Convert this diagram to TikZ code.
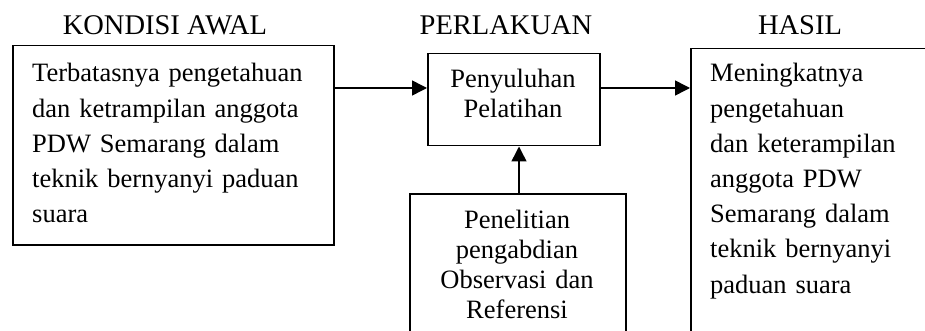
\documentclass[tikz,border=0pt]{standalone}
\usepackage{fontspec}
\setmainfont{Liberation Serif}
\usetikzlibrary{arrows.meta}
\begin{document}
\begin{tikzpicture}[x=1pt,y=-1pt,
  box/.style={draw,line width=1.5pt,rectangle,inner sep=0pt,anchor=north west},
  title/.style={anchor=base,inner sep=0pt,font=\fontsize{28.5}{34}\selectfont},
  body/.style={anchor=base west,inner sep=0pt,align=left},
  arr/.style={line width=1.5pt,-{Triangle[length=15pt,width=15pt]}}]
\useasboundingbox (0,0) rectangle (925,331);
\clip (0,0) rectangle (925,331);
% boxes
\node[box,minimum width=321pt,minimum height=199pt] (left) at (12,45) {};
\node[box,minimum width=172pt,minimum height=92pt] (mid) at (427,53) {};
\node[box,minimum width=216pt,minimum height=160pt] (bottom) at (409,193) {};
\node[box,minimum width=260pt,minimum height=300pt] (right) at (690,48) {};
% titles
\node[title] (t1) at (165,35) {KONDISI AWAL};
\node[title] (t2) at (506,35) {PERLAKUAN};
\node[title] (t3) at (800,35) {HASIL};
% texts
\node[body,text width=300pt,font=\fontsize{26.5}{35.2}\selectfont] (lt) at (32,82)
  {Terbatasnya pengetahuan\\dan ketrampilan anggota\\PDW Semarang dalam\\teknik bernyanyi paduan\\suara};
\node[body,text width=172pt,align=center,anchor=base,font=\fontsize{26.5}{30}\selectfont] (mt) at (513,88)
  {Penyuluhan\\Pelatihan};
\node[body,text width=216pt,align=center,anchor=base,font=\fontsize{26.5}{30}\selectfont] (bt) at (517,228)
  {Penelitian\\pengabdian\\Observasi dan\\Referensi};
\node[body,text width=220pt,font=\fontsize{26.5}{35.2}\selectfont] (rt) at (710,82)
  {Meningkatnya\\pengetahuan\\dan keterampilan\\anggota PDW\\Semarang dalam\\teknik bernyanyi\\paduan suara};
% connectors
\coordinate (a1) at (0,88);
\coordinate (a2) at (519,0);
\draw[arr] (left.east |- a1) -- (mid.west |- a1);
\draw[arr] (mid.east |- a1) -- (right.west |- a1);
\draw[arr] (bottom.north -| a2) -- (mid.south -| a2);
\end{tikzpicture}
\end{document}
